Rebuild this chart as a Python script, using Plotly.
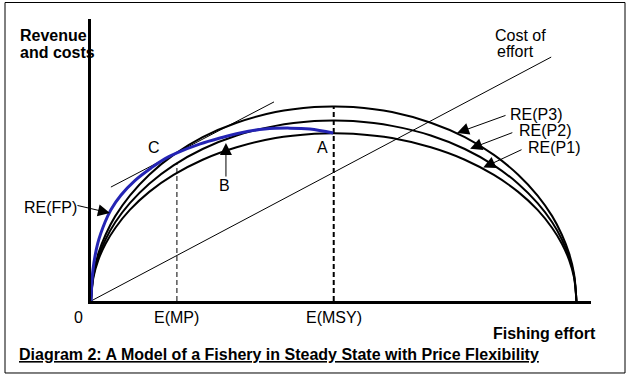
import plotly.graph_objects as go

# ---- data (effort units 0..103, revenue units 0..100) ----
effort = [0, 0.5, 1.5, 3, 5, 8, 12, 17, 23, 30, 38, 46, 50, 54, 62, 70, 77, 83, 88, 92, 95, 97, 98.5, 99.5, 100]
re_p3 = [0, 9.7, 16.8, 23.5, 30.1, 37.4, 44.8, 51.8, 58.1, 63.2, 67.0, 68.8, 69.0, 68.8, 67.0, 63.2, 58.1, 51.8, 44.8, 37.4, 30.1, 23.5, 16.8, 9.7, 0]
re_p2 = [0, 9.0, 15.6, 21.8, 27.9, 34.7, 41.6, 48.1, 53.9, 58.7, 62.1, 63.8, 64.0, 63.8, 62.1, 58.7, 53.9, 48.1, 41.6, 34.7, 27.9, 21.8, 15.6, 9.0, 0]
re_p1 = [0, 8.4, 14.5, 20.3, 25.9, 32.3, 38.7, 44.7, 50.1, 54.5, 57.8, 59.3, 59.5, 59.3, 57.8, 54.5, 50.1, 44.7, 38.7, 32.3, 25.9, 20.3, 14.5, 8.4, 0]

fp_effort = [0, 0.4, 1.4, 2.9, 4.1, 6.2, 9.1, 12.4, 15.2, 17.7, 22.5, 26.6, 30.7, 35.8, 41.0, 45.1, 49.9]
fp_revenue = [0, 11.0, 20.5, 28.0, 32.4, 37.6, 42.8, 47.2, 50.4, 52.5, 55.7, 57.8, 59.6, 61.0, 61.3, 61.0, 59.6]

cost_effort = [0, 94.8]
cost_value = [0, 86.5]

tangent_effort = [4.1, 37.7]
tangent_value = [40.4, 70.6]

e_mp = 17.7
e_mp_top = 49.0
e_msy = 50.0
e_msy_top = 69.0

X_RANGE = [0, 103]
Y_RANGE = [0, 100]

FONT = "Liberation Sans, Arial, sans-serif"
BLACK = "#000000"
BLUE = "#2424b4"

fig = go.Figure()

def line(x, y, color=BLACK, width=1, dash="solid", shape="linear"):
    fig.add_trace(go.Scatter(x=x, y=y, mode="lines", hoverinfo="skip",
                             line=dict(color=color, width=width, dash=dash, shape=shape),
                             showlegend=False, cliponaxis=False))

line(cost_effort, cost_value, width=1)
line(tangent_effort, tangent_value, width=1)
line([e_mp, e_mp], [0, e_mp_top], width=1, dash="5px,3px")
line([e_msy, e_msy], [0, e_msy_top], width=2, dash="5px,3px")
line(effort, re_p1, width=2, shape="spline")
line(effort, re_p2, width=2, shape="spline")
line(effort, re_p3, width=2, shape="spline")
line(fp_effort, fp_revenue, color=BLUE, width=3, shape="spline")

def label(text, x, y, size=16, bold=False, xanchor="center", yanchor="middle"):
    if bold:
        text = "<b>" + text + "</b>"
    inside = X_RANGE[0] <= x <= X_RANGE[1] and Y_RANGE[0] <= y <= Y_RANGE[1]
    if inside:
        xref, yref, px, py = "x", "y", x, y
    else:
        xref, yref = "paper", "paper"
        px = (x - X_RANGE[0]) / (X_RANGE[1] - X_RANGE[0])
        py = (y - Y_RANGE[0]) / (Y_RANGE[1] - Y_RANGE[0])
    fig.add_annotation(x=px, y=py, xref=xref, yref=yref, text=text, showarrow=False,
                       xanchor=xanchor, yanchor=yanchor,
                       font=dict(family=FONT, size=size, color=BLACK))

def arrow(tail, tip):
    fig.add_annotation(x=tip[0], y=tip[1], ax=tail[0], ay=tail[1],
                       xref="x", yref="y", axref="x", ayref="y", text="",
                       showarrow=True, arrowhead=2, arrowsize=2.4, arrowwidth=1,
                       arrowcolor=BLACK, standoff=0, startstandoff=0)

label("Revenue", -15.0, 94.3, bold=True, xanchor="left")
label("and costs", -15.0, 88.0, bold=True, xanchor="left")
label("Cost of", 82.8, 94.3, xanchor="left")
label("effort", 83.2, 88.3, xanchor="left")

label("RE(P3)", 85.9, 66.3, xanchor="left")
label("RE(P2)", 87.8, 60.6, xanchor="left")
label("RE(P1)", 89.6, 54.6, xanchor="left")
arrow((85.7, 66.0), (75.4, 59.6))
arrow((87.1, 59.9), (78.1, 54.0))
arrow((89.0, 53.9), (80.8, 47.3))

label("RE(FP)", -14.2, 33.3, xanchor="left")
arrow((-3.1, 34.0), (3.9, 31.2))

label("C", 13.0, 54.6)
label("A", 47.6, 54.6)
label("B", 27.6, 41.1)
arrow((27.8, 43.6), (27.8, 56.0))

label("0", -2.5, -5.7)
label("E(MP)", e_mp, -5.7)
label("E(MSY)", e_msy, -5.7)
label("Fishing effort", 104.4, -11.7, bold=True, xanchor="right")
label("<u>Diagram 2: A Model of a Fishery in Steady State with Price Flexibility</u>",
      -15.2, -18.8, size=16, bold=True, xanchor="left")

# outer frame
fig.add_shape(type="rect", xref="paper", yref="paper",
              x0=-0.172, x1=1.068, y0=-0.2553, y1=1.0585,
              line=dict(color=BLACK, width=1), fillcolor="rgba(0,0,0,0)")

fig.update_xaxes(range=X_RANGE, showline=True, linewidth=3, linecolor=BLACK,
                 showgrid=False, zeroline=False, showticklabels=False, ticks="")
fig.update_yaxes(range=Y_RANGE, showline=True, linewidth=3, linecolor=BLACK,
                 showgrid=False, zeroline=False, showticklabels=False, ticks="")

fig.update_layout(width=635, height=380, margin=dict(l=91, r=44, t=19, b=79),
                  plot_bgcolor="white", paper_bgcolor="white",
                  font=dict(family=FONT, size=16, color=BLACK))

fig.write_html("out.html", config={"displayModeBar": False},
               post_script="document.body.style.margin='0';")
